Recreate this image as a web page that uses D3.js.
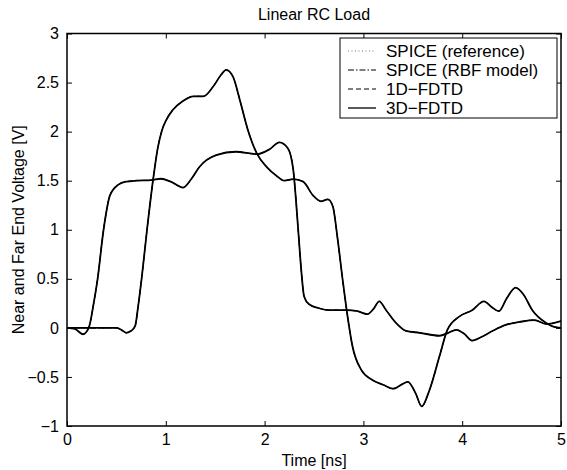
<!DOCTYPE html>
<html>
<head>
<meta charset="utf-8">
<script src="https://cdn.jsdelivr.net/npm/d3@7"></script>
<style>
body{margin:0;background:#fff;}
text{font-family:"Liberation Sans",Arial,Helvetica,sans-serif;fill:#000;}
</style>
</head>
<body>
<div id="chart"></div>
<script>
// near end voltage (t in ns, v in V)
var tNear = [0, 0.08, 0.16, 0.22, 0.27, 0.31, 0.37, 0.435, 0.52, 0.6, 0.7, 0.85, 0.95, 1.05, 1.175, 1.26, 1.34, 1.51, 1.71, 1.92, 2.05, 2.15, 2.235, 2.29, 2.34, 2.37, 2.40, 2.45, 2.55, 2.66, 2.83, 2.94, 3.04, 3.1, 3.16, 3.23, 3.33, 3.43, 3.57, 3.77, 3.86, 3.94, 4.02, 4.10, 4.2, 4.31, 4.44, 4.58, 4.73, 4.85, 5.0];
var vNear = [0, -0.01, -0.065, 0.0, 0.25, 0.5, 1.0, 1.35, 1.46, 1.49, 1.5, 1.505, 1.52, 1.49, 1.43, 1.52, 1.64, 1.76, 1.795, 1.77, 1.82, 1.89, 1.83, 1.61, 1.0, 0.6, 0.32, 0.24, 0.2, 0.18, 0.18, 0.17, 0.14, 0.19, 0.27, 0.18, 0.05, -0.03, -0.05, -0.08, -0.05, -0.02, -0.06, -0.13, -0.09, -0.03, 0.03, 0.06, 0.08, 0.04, 0.07];
// far end voltage
var tFar = [0, 0.3, 0.5, 0.55, 0.6, 0.65, 0.69, 0.72, 0.755, 0.81, 0.87, 0.92, 0.96, 1.0, 1.07, 1.17, 1.28, 1.38, 1.48, 1.56, 1.61, 1.68, 1.75, 1.83, 1.92, 2.02, 2.12, 2.20, 2.29, 2.39, 2.49, 2.57, 2.64, 2.69, 2.74, 2.79, 2.84, 2.89, 2.98, 3.09, 3.2, 3.30, 3.40, 3.45, 3.53, 3.59, 3.67, 3.77, 3.85, 3.97, 4.10, 4.22, 4.30, 4.37, 4.45, 4.54, 4.62, 4.71, 4.85, 4.93, 5.0];
var vFar = [0, 0, 0, -0.02, -0.05, -0.03, 0.02, 0.22, 0.5, 1.0, 1.5, 1.84, 2.01, 2.11, 2.22, 2.31, 2.36, 2.36, 2.46, 2.58, 2.63, 2.56, 2.32, 2.02, 1.78, 1.64, 1.55, 1.50, 1.515, 1.49, 1.35, 1.29, 1.31, 1.24, 0.90, 0.49, 0.115, -0.19, -0.43, -0.53, -0.58, -0.62, -0.57, -0.55, -0.67, -0.80, -0.63, -0.29, -0.02, 0.115, 0.18, 0.27, 0.21, 0.17, 0.3, 0.41, 0.34, 0.18, 0.05, 0.01, 0.0];

var seriesNames = ["SPICE (reference)", "SPICE (RBF model)", "1D\u2212FDTD", "3D\u2212FDTD"];
var xTicks = [0, 1, 2, 3, 4, 5];
var yTicks = [-1, -0.5, 0, 0.5, 1, 1.5, 2, 2.5, 3];

var W = 567, H = 470;
var mIzq = 67, mDer = 561, mArr = 33.5, mAbj = 426;

var svg = d3.select("#chart").append("svg")
    .attr("width", W).attr("height", H);

var x = d3.scaleLinear().domain([0, 5]).range([mIzq, mDer]);
var y = d3.scaleLinear().domain([-1, 3]).range([mAbj, mArr]);

function fmt(d) { return d < 0 ? "\u2212" + Math.abs(d) : "" + d; }

// estilos de linea de cada serie
var estilos = [
    {dash: "1,2.5", color: "#777", w: 1},
    {dash: "6,2,1.5,2", color: "#000", w: 1},
    {dash: "5,3", color: "#000", w: 1},
    {dash: null, color: "#000", w: 1.8}
];

var near = tNear.map(function(t, i) { return [t, vNear[i]]; });
var far = tFar.map(function(t, i) { return [t, vFar[i]]; });

var linea = d3.line()
    .x(function(d) { return x(d[0]); })
    .y(function(d) { return y(d[1]); })
    .curve(d3.curveMonotoneX);

svg.append("defs").append("clipPath").attr("id", "ventana")
    .append("rect").attr("x", mIzq).attr("y", mArr)
    .attr("width", mDer - mIzq).attr("height", mAbj - mArr);

var cuerpo = svg.append("g").attr("clip-path", "url(#ventana)");
estilos.forEach(function(s) {
    [near, far].forEach(function(data) {
        cuerpo.append("path")
            .attr("d", linea(data))
            .attr("fill", "none")
            .attr("stroke", s.color)
            .attr("stroke-width", s.w)
            .attr("stroke-dasharray", s.dash)
            .attr("stroke-linejoin", "round");
    });
});

// ejes con ticks hacia dentro en los cuatro lados
svg.append("g").attr("transform", "translate(0," + mAbj + ")")
    .call(d3.axisBottom(x).tickValues(xTicks).tickSize(-5).tickPadding(8).tickFormat(fmt))
    .call(function(g) { g.select(".domain").remove(); });
svg.append("g").attr("transform", "translate(0," + mArr + ")")
    .call(d3.axisTop(x).tickValues(xTicks).tickSize(-5).tickFormat(""))
    .call(function(g) { g.select(".domain").remove(); });
svg.append("g").attr("transform", "translate(" + mIzq + ",0)")
    .call(d3.axisLeft(y).tickValues(yTicks).tickSize(-5).tickPadding(8).tickFormat(fmt))
    .call(function(g) { g.select(".domain").remove(); });
svg.append("g").attr("transform", "translate(" + mDer + ",0)")
    .call(d3.axisRight(y).tickValues(yTicks).tickSize(-5).tickFormat(""))
    .call(function(g) { g.select(".domain").remove(); });

svg.selectAll(".tick text").style("font-size", "16px")
    .style("font-family", "'Liberation Sans',Arial,sans-serif");
svg.selectAll(".tick line").attr("stroke", "#000");

svg.append("rect").attr("x", mIzq).attr("y", mArr)
    .attr("width", mDer - mIzq).attr("height", mAbj - mArr)
    .attr("fill", "none").attr("stroke", "#000").attr("stroke-width", 1.5);

// titulo y etiquetas
svg.append("text").attr("x", (mIzq + mDer) / 2).attr("y", 20)
    .attr("text-anchor", "middle").style("font-size", "16px").text("Linear RC Load");
svg.append("text").attr("x", (mIzq + mDer) / 2).attr("y", 466)
    .attr("text-anchor", "middle").style("font-size", "16px").text("Time [ns]");
svg.append("text")
    .attr("transform", "translate(24," + (mArr + mAbj) / 2 + ") rotate(-90)")
    .attr("text-anchor", "middle").style("font-size", "16px")
    .text("Near and Far End Voltage [V]");

// leyenda
var lx = 340, ly = 38, lw = 217, lh = 80;
var leyenda = svg.append("g");
leyenda.append("rect").attr("x", lx).attr("y", ly).attr("width", lw).attr("height", lh)
    .attr("fill", "#fff").attr("stroke", "#000").attr("stroke-width", 1);
seriesNames.forEach(function(nombre, i) {
    var yy = ly + 13 + i * 19;
    var s = estilos[i];
    leyenda.append("line").attr("x1", lx + 8).attr("x2", lx + 36)
        .attr("y1", yy).attr("y2", yy)
        .attr("stroke", s.color).attr("stroke-width", s.dash ? 1 : 1.3)
        .attr("stroke-dasharray", s.dash);
    leyenda.append("text").attr("x", lx + 46).attr("y", yy)
        .attr("dy", "0.35em").style("font-size", "17px").text(nombre);
});
</script>
</body>
</html>
